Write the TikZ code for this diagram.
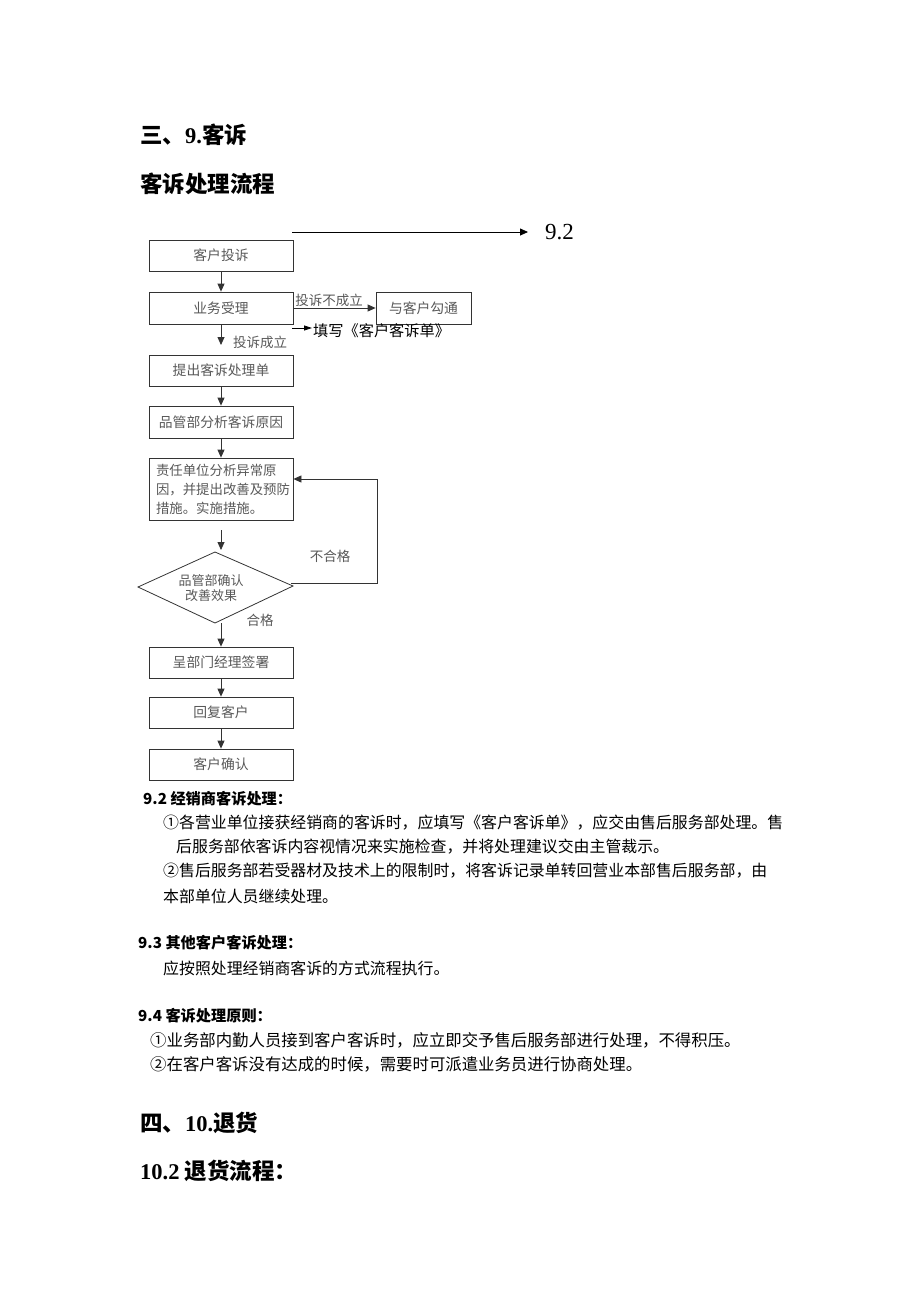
\documentclass[tikz,border=0pt]{standalone}
\usepackage{fontspec}
\setmainfont{Liberation Serif}
\newfontfamily\cjk{Noto Sans CJK SC}
\usetikzlibrary{arrows.meta}
\tikzset{
  box/.style={draw=black!80, line width=0.8pt, minimum width=144pt, inner sep=0pt, text=black!65, font=\cjk\fontsize{13.8}{16}\selectfont},
  arr/.style={draw=black!80, line width=0.8pt, -{Triangle[length=8pt,width=7pt]}},
  lbl/.style={text=black!65, inner sep=0pt, font=\cjk\fontsize{13.5}{16}\selectfont},
  body/.style={anchor=west, inner sep=0pt, font=\cjk\fontsize{15.9}{18}\selectfont},
  bhead/.style={anchor=west, inner sep=0pt, font=\cjk\bfseries\fontsize{15.2}{18}\selectfont},
  title/.style={anchor=west, inner sep=0pt, font=\cjk\bfseries\fontsize{22.5}{26}\selectfont}
}
\begin{document}
\begin{tikzpicture}[x=1pt,y=-1pt]
\useasboundingbox (0,0) rectangle (920,1302);
\fill[white] (0,0) rectangle (920,1302);

% titles
\node[title] (t1) at (140,135) {三、{\rmfamily\bfseries 9.}客诉};
\node[title] (t2) at (140,184) {客诉处理流程};

% top arrow to 9.2
\coordinate (a0) at (292,232);
\coordinate (a1) at (528,232);
\draw[arr, draw=black] (a0) -- (a1);
\node[anchor=west, inner sep=0pt, font=\rmfamily\fontsize{23}{26}\selectfont] (n92) at (545,232) {9.2};

% boxes
\node[box, minimum height=31pt] (b1) at (221,255.5) {客户投诉};
\node[box, minimum height=32pt] (b2) at (221,308) {业务受理};
\node[box, minimum height=32pt, minimum width=95pt] (b3) at (423.5,308) {与客户勾通};
\node[box, minimum height=31pt] (b4) at (221,370.5) {提出客诉处理单};
\node[box, minimum height=32pt] (b5) at (221,422) {品管部分析客诉原因};
\node[box, minimum height=62pt, align=left, text width=130pt, inner xsep=7pt, font=\cjk\fontsize{13.4}{19}\selectfont] (b6) at (221,489) {责任单位分析异常原\\因，并提出改善及预防\\措施。实施措施。};
\node[box, minimum height=31pt] (b7) at (221,662.5) {呈部门经理签署};
\node[box, minimum height=31pt] (b8) at (221,712.5) {回复客户};
\node[box, minimum height=31pt] (b9) at (221,764.5) {客户确认};

% diamond
\coordinate (dT) at (215,552);
\coordinate (dR) at (293,586);
\coordinate (dB) at (215,623);
\coordinate (dL) at (138,587);
\draw[draw=black!80, line width=0.8pt] (dT) -- (dR) -- (dB) -- (dL) -- cycle;
\node[lbl, align=center, font=\cjk\fontsize{13}{15}\selectfont] (dtext) at (211,588) {品管部确认\\改善效果};

% vertical arrows
\draw[arr] (b1.south) -- (b2.north);
\draw[arr] (b2.south) -- (b2.south |- 0,345);
\draw[arr] (b4.south) -- (b5.north);
\draw[arr] (b5.south) -- (b6.north);
\coordinate (c1) at (221,530);
\coordinate (c2) at (221,550);
\draw[arr] (c1) -- (c2);
\coordinate (c3) at (221,623);
\draw[arr] (c3) -- (b7.north);
\draw[arr] (b7.south) -- (b8.north);
\draw[arr] (b8.south) -- (b9.north);

% horizontal arrows
\draw[arr] (b2.east) -- (b3.west);
\node[lbl] (l1) at (329,300) {投诉不成立};
\coordinate (f0) at (292,328);
\coordinate (f1) at (312,328);
\draw[arr, draw=black, -{Triangle[length=8pt,width=5pt]}] (f0) -- (f1);
\node[anchor=west, inner sep=0pt, font=\cjk\fontsize{15.2}{18}\selectfont] (l2) at (313,331) {填写《客户客诉单》};
\node[lbl] (l3) at (260,342) {投诉成立};

% feedback loop
\coordinate (g0) at (291,583);
\coordinate (g1) at (377,583);
\coordinate (g2) at (377,479);
\draw[arr] (g0) -- (g1) -- (g2) -- (g2 -| b6.east);
\node[lbl] (l4) at (330,556) {不合格};
\node[lbl] (l5) at (260,620) {合格};

% body text
\node[bhead] (h92) at (143,799) {9.2 经销商客诉处理：};
\node[body] (p1) at (163,823) {①各营业单位接获经销商的客诉时，应填写《客户客诉单》，应交由售后服务部处理。售};
\node[body] (p2) at (176,847) {后服务部依客诉内容视情况来实施检查，并将处理建议交由主管裁示。};
\node[body] (p3) at (163,871) {②售后服务部若受器材及技术上的限制时，将客诉记录单转回营业本部售后服务部，由};
\node[body] (p4) at (163,896) {本部单位人员继续处理。};
\node[bhead] (h93) at (138,943) {9.3 其他客户客诉处理：};
\node[body] (p5) at (163,968) {应按照处理经销商客诉的方式流程执行。};
\node[bhead] (h94) at (138,1016) {9.4 客诉处理原则：};
\node[body, font=\cjk\fontsize{16.4}{18}\selectfont] (p6) at (150,1040) {①业务部内勤人员接到客户客诉时，应立即交予售后服务部进行处理，不得积压。};
\node[body, font=\cjk\fontsize{16.4}{18}\selectfont] (p7) at (150,1064) {②在客户客诉没有达成的时候，需要时可派遣业务员进行协商处理。};

\node[title] (t3) at (140,1123) {四、{\rmfamily\bfseries 10.}退货};
\node[title] (t4) at (140,1171) {{\rmfamily\bfseries 10.2} 退货流程：};
\end{tikzpicture}
\end{document}
